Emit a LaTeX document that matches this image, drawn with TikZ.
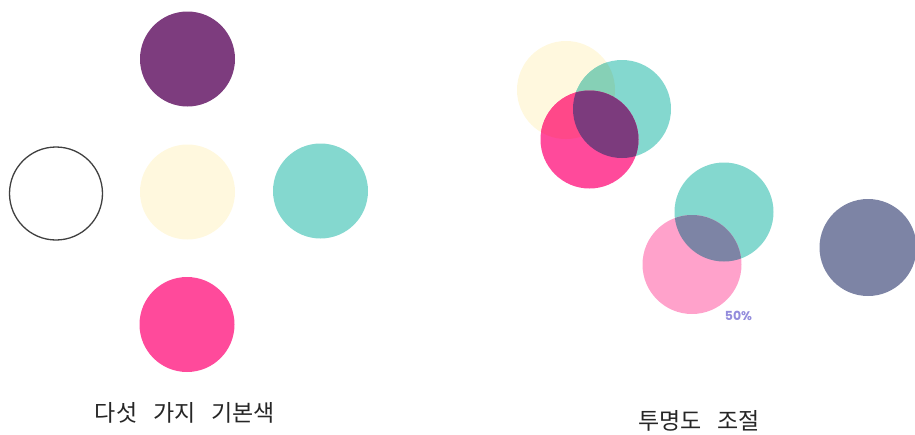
\documentclass[tikz,border=0pt]{standalone}
\usepackage{fontspec}
\newfontfamily\kr{Noto Sans CJK KR}
\setsansfont{Poppins}
\definecolor{cpurple}{HTML}{7D3C7E}
\definecolor{ccream}{HTML}{FFF8DE}
\definecolor{cteal}{HTML}{84D8CF}
\definecolor{cpink}{HTML}{FF4A9B}
\definecolor{clpink}{HTML}{FFA2CB}
\definecolor{cslate}{HTML}{7D84A5}
\definecolor{ctealcream}{HTML}{86D0B6}
\definecolor{cpinkcream}{HTML}{FF4889}
\definecolor{cpinkteal}{HTML}{7C3B7D}
\definecolor{clabel}{HTML}{938CDC}
\tikzset{
  dot/.style={circle, inner sep=0pt, minimum size=#1},
  lbl/.style={font=\kr\fontsize{23}{23}\selectfont, text=black!85, inner sep=0pt},
}
\begin{document}
\begin{tikzpicture}[x=1pt,y=-1pt]
\useasboundingbox (0,0) rectangle (915,434);
% five basic colours
\node[dot=95pt, fill=cpurple] (purple) at (187.5,59) {};
\node[dot=93pt, draw=black!75, line width=1.3pt, fill=white] (white) at (56,193.5) {};
\node[dot=95pt, fill=ccream] (cream) at (187.5,192) {};
\node[dot=95pt, fill=cteal] (teal) at (320.5,191) {};
\node[dot=95pt, fill=cpink] (pink) at (187,324.5) {};
\node[lbl] (lab1) at (185,413) {다섯\hspace{0.7em}가지\hspace{0.7em}기본색};
% overlapping group
\node[dot=98pt, fill=ccream] (c1) at (566,90) {};
\node[dot=98pt, fill=cteal] (t1) at (622,109) {};
\node[dot=98pt, fill=cpink] (p1) at (589.5,139.5) {};
\begin{scope}
  \clip (566,90) circle (49);
  \fill[ctealcream] (622,109) circle (49);
  \fill[cpinkcream] (589.5,139.5) circle (49);
\end{scope}
\begin{scope}
  \clip (622,109) circle (49);
  \fill[cpinkteal] (589.5,139.5) circle (49);
\end{scope}
% 50% group
\node[dot=99pt, fill=cteal] (t2) at (724,212) {};
\node[dot=99pt, fill=clpink] (p2) at (692,264.5) {};
\begin{scope}
  \clip (724,212) circle (49.5);
  \fill[cslate] (692,264.5) circle (49.5);
\end{scope}
\node[dot=97pt, fill=cslate] (slate) at (868,247.5) {};
\node[font=\sffamily\bfseries\fontsize{12.5}{12.5}\selectfont, text=clabel] (pct) at (738.5,316) {50\%};
\node[lbl] (lab2) at (699,421) {투명도\hspace{0.7em}조절};
\end{tikzpicture}
\end{document}
